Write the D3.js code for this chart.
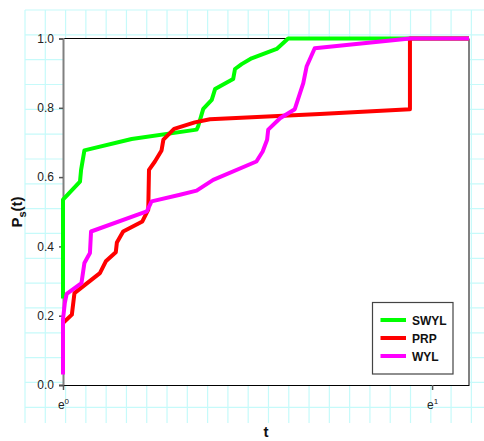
<!DOCTYPE html>
<html>
<head>
<meta charset="utf-8">
<script src="https://cdn.jsdelivr.net/npm/d3@7"></script>
<style>
  body { margin: 0; background: #fff; }
  text { font-family: "Liberation Sans", Arial, sans-serif; }
</style>
</head>
<body>
<div class="chart"></div>
<script>
// x values are exponents of t (axis is e^0 .. e^1.1), y values are Ps(t)
var swylX = [0, 0, 0.046, 0.049, 0.058, 0.186, 0.362, 0.366, 0.380, 0.403, 0.412, 0.461, 0.466, 0.484, 0.511, 0.579, 0.610, 1.1];
var swylY = [0.25, 0.535, 0.587, 0.621, 0.677, 0.710, 0.737, 0.746, 0.797, 0.823, 0.854, 0.883, 0.912, 0.926, 0.943, 0.970, 1.0, 1.0];

var prpX = [0, 0.024, 0.031, 0.100, 0.116, 0.143, 0.146, 0.163, 0.215, 0.231, 0.233, 0.249, 0.267, 0.272, 0.301, 0.357, 0.398, 0.696, 0.940, 0.940, 1.1];
var prpY = [0.179, 0.203, 0.265, 0.323, 0.357, 0.383, 0.411, 0.443, 0.472, 0.506, 0.621, 0.645, 0.677, 0.708, 0.739, 0.758, 0.767, 0.782, 0.796, 1.0, 1.0];

var wylX = [0, 0, 0.005, 0.010, 0.050, 0.058, 0.073, 0.076, 0.227, 0.240, 0.317, 0.362, 0.407, 0.524, 0.541, 0.553, 0.556, 0.588, 0.628, 0.651, 0.660, 0.682, 0.940, 1.1];
var wylY = [0.03, 0.19, 0.237, 0.263, 0.294, 0.352, 0.381, 0.443, 0.501, 0.530, 0.549, 0.561, 0.592, 0.645, 0.674, 0.708, 0.737, 0.770, 0.796, 0.871, 0.919, 0.972, 1.0, 1.0];

var seriesNames = ["SWYL", "PRP", "WYL"];
var seriesColors = ["#00ff00", "#ff0000", "#ff00ff"];
var yTicks = [0, 0.2, 0.4, 0.6, 0.8, 1.0];
var xTicks = [0, 1];

var svgWidth = 484;
var svgHeight = 441;

var margin = { top: 38.5, right: 15, bottom: 56, left: 63 };
var width = svgWidth - margin.left - margin.right;
var height = svgHeight - margin.top - margin.bottom;

var svg = d3.select(".chart")
  .append("svg")
  .attr("width", svgWidth)
  .attr("height", svgHeight);

// graph paper background
var grid = svg.append("g");
d3.range(0, 23).forEach(function(i) {
  var gx = 25 + i * 20.29;
  grid.append("line")
    .attr("x1", gx).attr("x2", gx).attr("y1", 10).attr("y2", 423)
    .attr("stroke", "#c6fafa").attr("stroke-width", 1.2);
});
d3.range(0, 17).forEach(function(i) {
  var gy = 10 + i * 24.83;
  grid.append("line")
    .attr("x1", 25).attr("x2", 484).attr("y1", gy).attr("y2", gy)
    .attr("stroke", "#c6fafa").attr("stroke-width", 1.2);
});

var x = d3.scaleLinear().domain([0, 1.1]).range([0, width]);
var y = d3.scaleLinear().domain([0, 1]).range([height, 0]);

var chartGroup = svg.append("g")
  .attr("transform", "translate(" + margin.left + "," + margin.top + ")");

chartGroup.append("rect")
  .attr("width", width).attr("height", height)
  .attr("fill", "#fff");

// frame
chartGroup.append("line").attr("x1", 0).attr("x2", width).attr("y1", 0).attr("y2", 0)
  .attr("stroke", "#000").attr("stroke-width", 1.2);
chartGroup.append("line").attr("x1", width).attr("x2", width).attr("y1", 0).attr("y2", height)
  .attr("stroke", "#808080").attr("stroke-width", 2);

// y axis
var yAxis = chartGroup.append("g")
  .call(d3.axisLeft(y).tickValues(yTicks).tickFormat(d3.format(".1f")).tickSize(4).tickPadding(5));
yAxis.select(".domain").attr("stroke", "#808080").attr("stroke-width", 2);
yAxis.selectAll(".tick line").attr("stroke", "#555").attr("stroke-width", 1.5);
yAxis.selectAll("text").attr("font-size", "12px").attr("fill", "#222")
  .style("font-family", "'Liberation Sans', Arial, sans-serif");

// x axis
var xAxis = chartGroup.append("g")
  .attr("transform", "translate(0," + height + ")")
  .call(d3.axisBottom(x).tickValues(xTicks).tickFormat("").tickSize(5).tickSizeOuter(0));
xAxis.select(".domain").attr("stroke", "#000").attr("stroke-width", 1.2);
xAxis.selectAll(".tick line").attr("stroke", "#555").attr("stroke-width", 1.5);
xAxis.selectAll(".tick").append("text")
  .attr("y", 24)
  .attr("text-anchor", "middle")
  .attr("fill", "#222")
  .attr("font-size", "12px")
  .each(function(d) {
    var t = d3.select(this);
    t.append("tspan").text("e");
    t.append("tspan").attr("dy", -5).attr("font-size", "8px").text(d);
  });

// series
var lineFunc = d3.line()
  .x(function(d) { return x(d[0]); })
  .y(function(d) { return y(d[1]); });

var seriesData = [d3.zip(swylX, swylY), d3.zip(prpX, prpY), d3.zip(wylX, wylY)];

seriesData.forEach(function(data, i) {
  chartGroup.append("path")
    .attr("d", lineFunc(data))
    .attr("fill", "none")
    .attr("stroke", seriesColors[i])
    .attr("stroke-width", 4)
    .attr("stroke-linejoin", "round");
});

// axis titles
svg.append("text")
  .attr("x", 266).attr("y", 437)
  .attr("text-anchor", "middle")
  .attr("font-size", "15px").attr("font-weight", "bold")
  .attr("fill", "#111")
  .text("t");

var yTitle = svg.append("text")
  .attr("transform", "translate(22,212) rotate(-90)")
  .attr("text-anchor", "middle")
  .attr("font-size", "15px").attr("font-weight", "bold")
  .attr("fill", "#111");
yTitle.append("tspan").text("P");
yTitle.append("tspan").attr("dy", 4).attr("font-size", "11px").text("s");
yTitle.append("tspan").attr("dy", -4).text("(t)");

// legend
var legend = svg.append("g").attr("transform", "translate(372.5,302.5)");
legend.append("rect")
  .attr("width", 80.5).attr("height", 71.5)
  .attr("fill", "#fff").attr("stroke", "#444").attr("stroke-width", 1.2);
seriesNames.forEach(function(name, i) {
  var ly = 17.5 + i * 18;
  legend.append("line")
    .attr("x1", 8).attr("x2", 33.5).attr("y1", ly).attr("y2", ly)
    .attr("stroke", seriesColors[i]).attr("stroke-width", 4);
  legend.append("text")
    .attr("x", 39.5).attr("y", ly + 4.5)
    .attr("font-size", "12px").attr("font-weight", "bold")
    .attr("fill", "#111")
    .text(name);
});
</script>
</body>
</html>
